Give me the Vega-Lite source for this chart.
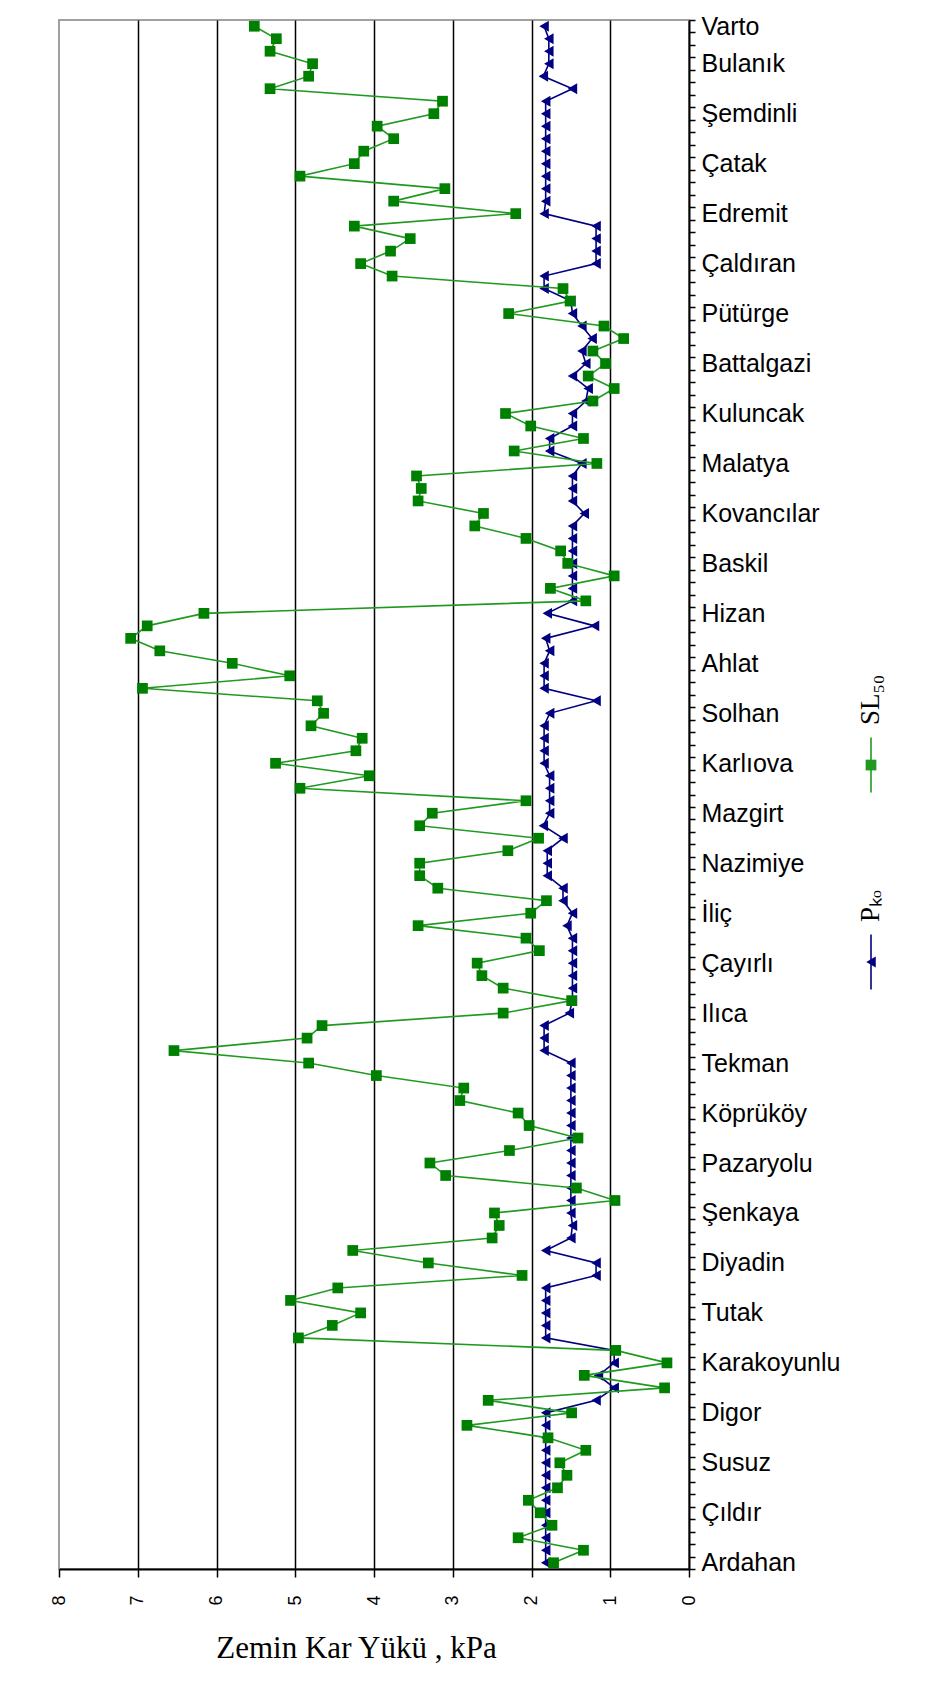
{
  "$schema": "https://vega.github.io/schema/vega-lite/v6.json",
  "background": "white",
  "padding": {"left": 49, "top": 7, "right": 5, "bottom": 5},
  "spacing": 16,
  "config": {
    "view": {"stroke": "#a0a0a0", "strokeWidth": 2},
    "font": "Liberation Sans"
  },
  "hconcat": [
    {
      "width": 630,
      "height": 1549,
      "data": {
        "values": [
          {"i": 0, "key": "Ardahan", "SL50": 1.72, "Pko": 1.82},
          {"i": 1, "key": "#1", "SL50": 1.34, "Pko": 1.82},
          {"i": 2, "key": "#2", "SL50": 2.17, "Pko": 1.82},
          {"i": 3, "key": "#3", "SL50": 1.74, "Pko": 1.82},
          {"i": 4, "key": "Çıldır", "SL50": 1.89, "Pko": 1.82},
          {"i": 5, "key": "#5", "SL50": 2.04, "Pko": 1.82},
          {"i": 6, "key": "#6", "SL50": 1.67, "Pko": 1.82},
          {"i": 7, "key": "#7", "SL50": 1.55, "Pko": 1.82},
          {"i": 8, "key": "Susuz", "SL50": 1.64, "Pko": 1.82},
          {"i": 9, "key": "#9", "SL50": 1.31, "Pko": 1.82},
          {"i": 10, "key": "#10", "SL50": 1.79, "Pko": 1.82},
          {"i": 11, "key": "#11", "SL50": 2.82, "Pko": 1.82},
          {"i": 12, "key": "Digor", "SL50": 1.49, "Pko": 1.82},
          {"i": 13, "key": "#13", "SL50": 2.55, "Pko": 1.18},
          {"i": 14, "key": "#14", "SL50": 0.31, "Pko": 0.95},
          {"i": 15, "key": "#15", "SL50": 1.33, "Pko": 1.15},
          {"i": 16, "key": "Karakoyunlu", "SL50": 0.28, "Pko": 0.95},
          {"i": 17, "key": "#17", "SL50": 0.93, "Pko": 0.95},
          {"i": 18, "key": "#18", "SL50": 4.96, "Pko": 1.82},
          {"i": 19, "key": "#19", "SL50": 4.53, "Pko": 1.82},
          {"i": 20, "key": "Tutak", "SL50": 4.17, "Pko": 1.82},
          {"i": 21, "key": "#21", "SL50": 5.06, "Pko": 1.82},
          {"i": 22, "key": "#22", "SL50": 4.46, "Pko": 1.82},
          {"i": 23, "key": "#23", "SL50": 2.12, "Pko": 1.18},
          {"i": 24, "key": "Diyadin", "SL50": 3.31, "Pko": 1.18},
          {"i": 25, "key": "#25", "SL50": 4.27, "Pko": 1.82},
          {"i": 26, "key": "#26", "SL50": 2.5, "Pko": 1.5},
          {"i": 27, "key": "#27", "SL50": 2.41, "Pko": 1.48},
          {"i": 28, "key": "Şenkaya", "SL50": 2.47, "Pko": 1.5},
          {"i": 29, "key": "#29", "SL50": 0.94, "Pko": 1.5},
          {"i": 30, "key": "#30", "SL50": 1.43, "Pko": 1.5},
          {"i": 31, "key": "#31", "SL50": 3.09, "Pko": 1.5},
          {"i": 32, "key": "Pazaryolu", "SL50": 3.29, "Pko": 1.5},
          {"i": 33, "key": "#33", "SL50": 2.28, "Pko": 1.5},
          {"i": 34, "key": "#34", "SL50": 1.41, "Pko": 1.5},
          {"i": 35, "key": "#35", "SL50": 2.03, "Pko": 1.5},
          {"i": 36, "key": "Köprüköy", "SL50": 2.17, "Pko": 1.5},
          {"i": 37, "key": "#37", "SL50": 2.91, "Pko": 1.5},
          {"i": 38, "key": "#38", "SL50": 2.86, "Pko": 1.5},
          {"i": 39, "key": "#39", "SL50": 3.97, "Pko": 1.5},
          {"i": 40, "key": "Tekman", "SL50": 4.83, "Pko": 1.5},
          {"i": 41, "key": "#41", "SL50": 6.54, "Pko": 1.84},
          {"i": 42, "key": "#42", "SL50": 4.85, "Pko": 1.84},
          {"i": 43, "key": "#43", "SL50": 4.66, "Pko": 1.84},
          {"i": 44, "key": "Ilıca", "SL50": 2.36, "Pko": 1.52},
          {"i": 45, "key": "#45", "SL50": 1.49, "Pko": 1.48},
          {"i": 46, "key": "#46", "SL50": 2.36, "Pko": 1.48},
          {"i": 47, "key": "#47", "SL50": 2.63, "Pko": 1.48},
          {"i": 48, "key": "Çayırlı", "SL50": 2.69, "Pko": 1.48},
          {"i": 49, "key": "#49", "SL50": 1.9, "Pko": 1.48},
          {"i": 50, "key": "#50", "SL50": 2.07, "Pko": 1.48},
          {"i": 51, "key": "#51", "SL50": 3.44, "Pko": 1.55},
          {"i": 52, "key": "İliç", "SL50": 2.01, "Pko": 1.48},
          {"i": 53, "key": "#53", "SL50": 1.81, "Pko": 1.6},
          {"i": 54, "key": "#54", "SL50": 3.19, "Pko": 1.6},
          {"i": 55, "key": "#55", "SL50": 3.42, "Pko": 1.8},
          {"i": 56, "key": "Nazimiye", "SL50": 3.42, "Pko": 1.8},
          {"i": 57, "key": "#57", "SL50": 2.3, "Pko": 1.8},
          {"i": 58, "key": "#58", "SL50": 1.91, "Pko": 1.6},
          {"i": 59, "key": "#59", "SL50": 3.42, "Pko": 1.85},
          {"i": 60, "key": "Mazgirt", "SL50": 3.26, "Pko": 1.77},
          {"i": 61, "key": "#61", "SL50": 2.07, "Pko": 1.77},
          {"i": 62, "key": "#62", "SL50": 4.94, "Pko": 1.77},
          {"i": 63, "key": "#63", "SL50": 4.06, "Pko": 1.77},
          {"i": 64, "key": "Karlıova", "SL50": 5.25, "Pko": 1.84},
          {"i": 65, "key": "#65", "SL50": 4.23, "Pko": 1.84},
          {"i": 66, "key": "#66", "SL50": 4.15, "Pko": 1.84},
          {"i": 67, "key": "#67", "SL50": 4.8, "Pko": 1.84},
          {"i": 68, "key": "Solhan", "SL50": 4.64, "Pko": 1.77},
          {"i": 69, "key": "#69", "SL50": 4.72, "Pko": 1.18},
          {"i": 70, "key": "#70", "SL50": 6.94, "Pko": 1.84},
          {"i": 71, "key": "#71", "SL50": 5.07, "Pko": 1.84},
          {"i": 72, "key": "Ahlat", "SL50": 5.8, "Pko": 1.84},
          {"i": 73, "key": "#73", "SL50": 6.72, "Pko": 1.77},
          {"i": 74, "key": "#74", "SL50": 7.09, "Pko": 1.82},
          {"i": 75, "key": "#75", "SL50": 6.88, "Pko": 1.2},
          {"i": 76, "key": "Hizan", "SL50": 6.16, "Pko": 1.8},
          {"i": 77, "key": "#77", "SL50": 1.31, "Pko": 1.48},
          {"i": 78, "key": "#78", "SL50": 1.76, "Pko": 1.48},
          {"i": 79, "key": "#79", "SL50": 0.95, "Pko": 1.48},
          {"i": 80, "key": "Baskil", "SL50": 1.54, "Pko": 1.48},
          {"i": 81, "key": "#81", "SL50": 1.63, "Pko": 1.48},
          {"i": 82, "key": "#82", "SL50": 2.07, "Pko": 1.48},
          {"i": 83, "key": "#83", "SL50": 2.72, "Pko": 1.48},
          {"i": 84, "key": "Kovancılar", "SL50": 2.61, "Pko": 1.33},
          {"i": 85, "key": "#85", "SL50": 3.44, "Pko": 1.48},
          {"i": 86, "key": "#86", "SL50": 3.4, "Pko": 1.48},
          {"i": 87, "key": "#87", "SL50": 3.46, "Pko": 1.48},
          {"i": 88, "key": "Malatya", "SL50": 1.17, "Pko": 1.36},
          {"i": 89, "key": "#89", "SL50": 2.22, "Pko": 1.77},
          {"i": 90, "key": "#90", "SL50": 1.34, "Pko": 1.77},
          {"i": 91, "key": "#91", "SL50": 2.01, "Pko": 1.48},
          {"i": 92, "key": "Kuluncak", "SL50": 2.33, "Pko": 1.48},
          {"i": 93, "key": "#93", "SL50": 1.22, "Pko": 1.31},
          {"i": 94, "key": "#94", "SL50": 0.95, "Pko": 1.28},
          {"i": 95, "key": "#95", "SL50": 1.28, "Pko": 1.48},
          {"i": 96, "key": "Battalgazi", "SL50": 1.06, "Pko": 1.31},
          {"i": 97, "key": "#97", "SL50": 1.22, "Pko": 1.36},
          {"i": 98, "key": "#98", "SL50": 0.83, "Pko": 1.23},
          {"i": 99, "key": "#99", "SL50": 1.08, "Pko": 1.36},
          {"i": 100, "key": "Pütürge", "SL50": 2.29, "Pko": 1.48},
          {"i": 101, "key": "#101", "SL50": 1.51, "Pko": 1.5},
          {"i": 102, "key": "#102", "SL50": 1.6, "Pko": 1.84},
          {"i": 103, "key": "#103", "SL50": 3.77, "Pko": 1.84},
          {"i": 104, "key": "Çaldıran", "SL50": 4.17, "Pko": 1.18},
          {"i": 105, "key": "#105", "SL50": 3.79, "Pko": 1.18},
          {"i": 106, "key": "#106", "SL50": 3.54, "Pko": 1.18},
          {"i": 107, "key": "#107", "SL50": 4.25, "Pko": 1.18},
          {"i": 108, "key": "Edremit", "SL50": 2.2, "Pko": 1.84},
          {"i": 109, "key": "#109", "SL50": 3.75, "Pko": 1.82},
          {"i": 110, "key": "#110", "SL50": 3.1, "Pko": 1.82},
          {"i": 111, "key": "#111", "SL50": 4.94, "Pko": 1.82},
          {"i": 112, "key": "Çatak", "SL50": 4.25, "Pko": 1.82},
          {"i": 113, "key": "#113", "SL50": 4.13, "Pko": 1.82},
          {"i": 114, "key": "#114", "SL50": 3.75, "Pko": 1.82},
          {"i": 115, "key": "#115", "SL50": 3.96, "Pko": 1.82},
          {"i": 116, "key": "Şemdinli", "SL50": 3.24, "Pko": 1.82},
          {"i": 117, "key": "#117", "SL50": 3.13, "Pko": 1.82},
          {"i": 118, "key": "#118", "SL50": 5.32, "Pko": 1.48},
          {"i": 119, "key": "#119", "SL50": 4.83, "Pko": 1.85},
          {"i": 120, "key": "Bulanık", "SL50": 4.78, "Pko": 1.78},
          {"i": 121, "key": "#121", "SL50": 5.32, "Pko": 1.78},
          {"i": 122, "key": "#122", "SL50": 5.24, "Pko": 1.78},
          {"i": 123, "key": "Varto", "SL50": 5.52, "Pko": 1.84}
        ]
      },
      "transform": [{"fold": ["SL50", "Pko"], "as": ["series", "kPa"]}],
      "encoding": {
        "y": {
          "field": "key",
          "type": "ordinal",
          "sort": {"field": "i", "op": "min", "order": "descending"},
          "scale": {"type": "band", "paddingInner": 0, "paddingOuter": 0},
          "axis": {
            "orient": "right",
            "title": null,
            "tickBand": "extent",
            "labelExpr": "indexof('' + datum.value, '#') === 0 ? '' : datum.label",
            "labelOverlap": false,
            "labelFont": "Liberation Sans",
            "labelFontSize": 25,
            "labelColor": "black",
            "labelPadding": 6,
            "tickSize": 6,
            "tickColor": "black",
            "tickWidth": 1.5,
            "domainColor": "black",
            "domainWidth": 2,
            "grid": false
          }
        },
        "x": {
          "field": "kPa",
          "type": "quantitative",
          "scale": {"domain": [0, 8], "reverse": true, "nice": false, "zero": false},
          "axis": {
            "values": [0, 1, 2, 3, 4, 5, 6, 7, 8],
            "title": "Zemin Kar Yükü , kPa",
            "titleFont": "Liberation Serif",
            "titleFontSize": 31,
            "titleFontWeight": "normal",
            "titleColor": "black",
            "titleX": 297,
            "titleY": 88,
            "titleBaseline": "alphabetic",
            "labelAngle": 270,
            "labelFont": "Liberation Sans",
            "labelFontSize": 18,
            "labelColor": "black",
            "labelPadding": 18,
            "labelFlush": false,
            "tickSize": 8,
            "tickColor": "black",
            "tickWidth": 1.5,
            "domainColor": "black",
            "domainWidth": 2,
            "grid": true,
            "gridColor": "black",
            "gridWidth": 1.5,
            "gridOpacity": {"condition": {"test": "datum.value === 0 || datum.value === 8", "value": 0}, "value": 1}
          }
        },
        "order": {"field": "i", "type": "quantitative"}
      },
      "layer": [
        {
          "transform": [{"filter": "datum.series === 'Pko'"}],
          "mark": {"type": "line", "color": "#000080", "strokeWidth": 1.6}
        },
        {
          "transform": [{"filter": "datum.series === 'Pko'"}],
          "mark": {"type": "point", "shape": "triangle-left", "filled": true, "color": "#000080", "size": 120, "opacity": 1}
        },
        {
          "transform": [{"filter": "datum.series === 'SL50'"}],
          "mark": {"type": "line", "color": "#1f9a1f", "strokeWidth": 1.6}
        },
        {
          "transform": [{"filter": "datum.series === 'SL50'"}],
          "mark": {"type": "point", "shape": "square", "filled": true, "color": "#008000", "size": 115, "opacity": 1}
        }
      ]
    },
    {
      "width": 24,
      "height": 1549,
      "view": {"stroke": null},
      "data": {
        "values": [
          {"series": "SL50", "label": "SL₅₀", "rank": 1},
          {"series": "Pko", "label": "Pₖₒ", "rank": 2}
        ]
      },
      "encoding": {
        "y": {
          "field": "rank",
          "type": "quantitative",
          "scale": {"domain": [-2.782, 5.081], "reverse": true, "nice": false, "zero": false},
          "axis": null
        },
        "color": {
          "field": "series",
          "type": "nominal",
          "scale": {"domain": ["SL50", "Pko"], "range": ["#1f9a1f", "#000080"]},
          "legend": null
        }
      },
      "layer": [
        {
          "mark": {"type": "point", "shape": "M0,-1L0,1", "filled": false, "size": 3025, "strokeWidth": 1.6, "opacity": 1}
        },
        {
          "mark": {"type": "point", "filled": true, "opacity": 1},
          "encoding": {
            "shape": {
              "field": "series",
              "type": "nominal",
              "scale": {"domain": ["SL50", "Pko"], "range": ["square", "triangle-left"]},
              "legend": null
            },
            "size": {
              "field": "series",
              "type": "nominal",
              "scale": {"domain": ["SL50", "Pko"], "range": [115, 120]},
              "legend": null
            },
            "color": {
              "field": "series",
              "type": "nominal",
              "scale": {"domain": ["SL50", "Pko"], "range": ["#008000", "#000080"]},
              "legend": null
            }
          }
        },
        {
          "mark": {"type": "text", "angle": 270, "align": "left", "baseline": "middle", "dx": 40, "font": "Liberation Serif", "fontSize": 27},
          "encoding": {
            "text": {"field": "label"},
            "color": {"value": "black"}
          }
        }
      ]
    }
  ]
}
